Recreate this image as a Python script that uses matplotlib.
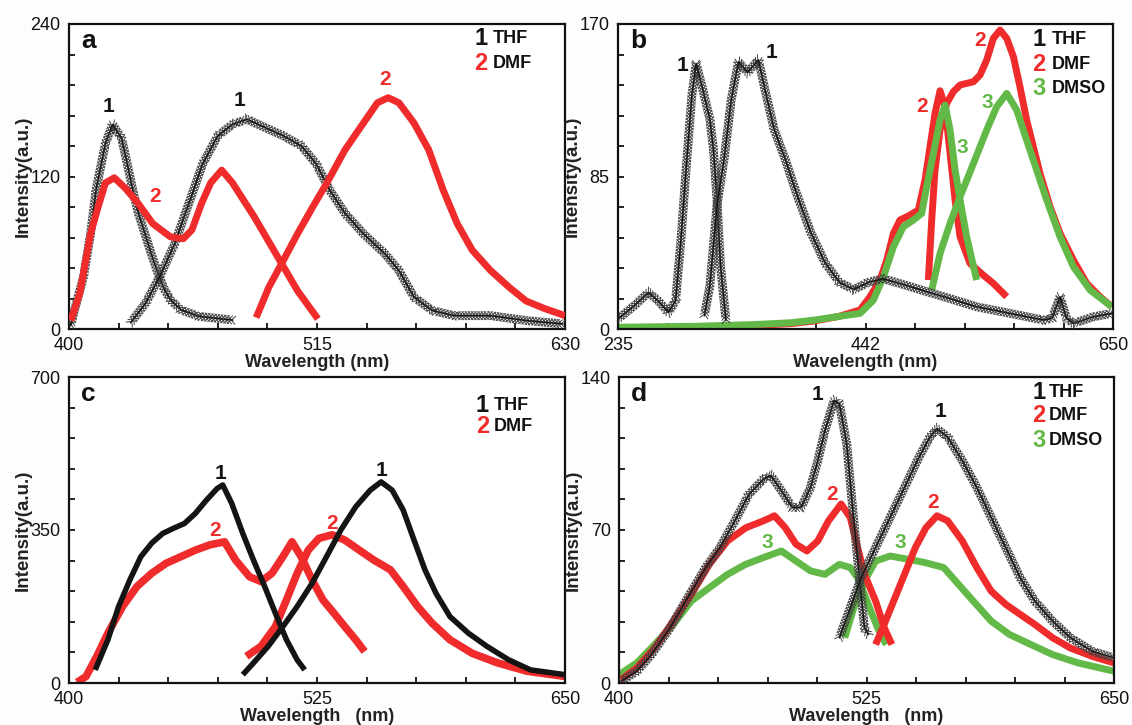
import matplotlib
matplotlib.use("Agg")
import matplotlib.pyplot as plt
from matplotlib import patheffects as pe

plt.rcParams["font.family"] = ["Liberation Sans", "DejaVu Sans"]

RED = "#ef2b2b"
GREEN = "#63b947"
BLACK = "#141414"

# ---- panel a ----
a_thf_ex_wl = [400.8, 402.5, 406.7, 410, 412.6, 416.9, 420.2, 424.4, 427, 429.5, 432, 435, 438, 441, 444, 447, 452, 460, 476]
a_thf_ex_int = [2.6, 14.5, 41, 75, 110, 146, 161, 150, 130, 110, 92, 76, 60, 45, 32, 23, 15, 10, 7]
a_dmf_ex_wl = [400.8, 405, 410, 413.5, 416.9, 421, 426, 432, 438.8, 447, 453, 457, 461.5, 465.7, 470.8, 475.8, 486, 496, 506, 515.4]
a_dmf_ex_int = [6.6, 28, 75, 96, 115, 119, 111, 99, 83, 72.5, 71, 78, 99, 115, 125, 115, 88, 59, 30, 8]
a_thf_em_wl = [428.6, 435.4, 442, 449, 455.6, 462, 469, 475.8, 482.6, 489, 499.4, 507.8, 514.6, 521, 528, 536.5, 546.6, 553, 560, 568.5, 578.6, 595.5, 612.3, 629]
a_thf_em_int = [5, 20, 41, 67, 99, 130, 152, 161, 165, 160, 152, 144, 130, 109, 91, 75, 59, 46, 25, 14.5, 10.5, 10.5, 6.6, 4]
a_dmf_em_wl = [486.8, 492.7, 499.4, 506, 513, 519.6, 528, 536.5, 543, 548, 553, 560, 566.8, 573.6, 580, 587, 595.5, 604, 612, 620.7, 630]
a_dmf_em_int = [9, 33, 54, 75, 96, 115, 141, 162, 178, 182, 178, 162, 141, 109, 83, 62, 46, 33, 22, 16, 10.5]

# ---- panel b ----
b_thf_ex_wl = [235, 248.6, 260.7, 269.7, 277.3, 283.3, 287.8, 292.3, 296.9, 300.5, 305.9, 312, 315, 318, 321, 325.5]
b_thf_ex_int = [5.6, 13, 20.4, 15, 9.3, 15.8, 50, 91, 130, 148, 134, 117, 100, 72, 35, 4.6]
b_thf_em_wl = [307.4, 312, 318, 324, 330, 336, 343.6, 352.7, 358.7, 366, 375, 384.4, 396.5, 408.5, 420.6, 432.7, 444.8, 456.8, 466, 480, 508, 535.7, 563.7, 591.6, 599, 605.6, 611, 616.8, 633.5, 649]
b_thf_em_int = [7.4, 24, 69, 95, 128, 149, 143, 150, 132, 111, 95, 76, 54, 37, 26, 22, 26, 28, 26.4, 23.6, 18, 12.4, 8.7, 5, 6, 18, 6, 3.1, 6.8, 8.7]
b_dmf_ex_wl = [235, 300, 350, 380, 400, 420, 437.9, 446.3, 454.7, 460.3, 465.9, 471.4, 479.8, 486.8, 492.4, 496.6, 500.8, 505, 509.2, 513.4, 517.6, 521.8, 530.1, 541.3, 549.7, 560.9]
b_dmf_ex_int = [0.5, 1, 2, 3, 4.5, 7, 10.6, 18, 27.3, 38.4, 53.3, 60.7, 63.5, 66.3, 83, 101.6, 120.2, 132.8, 123.9, 97.9, 71.9, 51.4, 36.6, 30, 25.4, 18]
b_dmso_ex_wl = [235, 300, 350, 380, 400, 420, 437.9, 449, 457.5, 465.9, 474.2, 482.6, 489.6, 493.8, 499.4, 505, 509.2, 513.4, 517.6, 521.8, 527.3, 535.7]
b_dmso_ex_int = [1, 1.5, 2.5, 3.5, 5, 7, 8.7, 16, 29, 45.8, 57, 60.7, 64.4, 79.3, 97.9, 116.5, 124.8, 110.9, 88.6, 71.9, 51.4, 27.3]
b_dmf_em_wl = [495.2, 498, 500.8, 505, 510.6, 516.2, 521.8, 532.9, 538.5, 544.1, 549.7, 555.3, 560.9, 566.5, 572, 577.6, 583.2, 588.8, 597.2, 605.6, 616.8, 628, 639.1, 649]
b_dmf_em_int = [27.3, 60.7, 88.6, 110.9, 125.8, 132.3, 136, 137.8, 141.5, 149.9, 162, 166.6, 162, 151.8, 135, 116.5, 101.6, 86.7, 68.2, 53.3, 38.4, 25.4, 18, 12.4]
b_dmso_em_wl = [498, 505, 513.4, 521.8, 533, 544.1, 552.5, 560.9, 569.3, 577.6, 586, 594.4, 605.6, 616.8, 630.8, 649]
b_dmso_em_int = [21.7, 42.1, 58.9, 73.7, 92.3, 110.9, 123.9, 131.3, 122, 105.3, 88.6, 71.9, 51.4, 34.7, 21.7, 12.4]

# ---- panel c ----
c_thf_ex_wl = [413.2, 419.6, 425, 430.7, 436.2, 441.7, 447.2, 452.7, 458.2, 463.7, 469.2, 474.7, 477.5, 482, 487.6, 493, 498.6, 504, 509.6, 515, 518.8]
c_thf_ex_int = [30, 99, 175, 236, 289, 320, 342, 354, 365, 388, 418, 445, 453, 411, 342, 281, 221, 160, 99, 53, 30]
c_dmf_ex_wl = [404, 408.6, 414, 419.6, 427, 434.3, 441.7, 449, 456.4, 463.7, 471, 478.4, 484, 491, 496.8, 502.3, 507.8, 512.4, 517, 522.5, 528, 533.5, 539, 544.5, 549]
c_dmf_ex_int = [1.5, 15, 61, 114, 175, 221, 251, 274, 289, 304, 316, 323, 281, 243, 232, 251, 289, 323, 289, 236, 190, 160, 129, 99, 72]
c_thf_em_wl = [487.6, 493, 500.4, 507.8, 515, 522.5, 529.8, 537, 544.5, 551.8, 557.3, 562.9, 568.4, 573.9, 579.4, 585, 592, 601.3, 610.6, 621.6, 632.6, 650]
c_thf_em_int = [19, 46, 84, 129, 175, 228, 289, 350, 403, 441, 460, 441, 396, 327, 259, 205, 152, 114, 84, 53, 30, 19]
c_dmf_em_wl = [489.4, 496.8, 504, 509.6, 515, 520.6, 526, 532.6, 539, 546.3, 553.7, 562, 568.4, 575.7, 583, 592, 603.2, 616, 630.8, 650]
c_dmf_em_int = [61, 84, 129, 190, 251, 304, 331, 339, 327, 304, 281, 259, 221, 175, 137, 99, 68, 46, 27, 15]

# ---- panel d ----
d_thf_ex_wl = [401, 409, 416.4, 425.6, 434.7, 443.8, 451, 458.4, 465.7, 473, 476.7, 482, 487.6, 492, 496.7, 500.4, 504, 508.6, 511.3, 515, 518.6, 521.4, 524, 526]
d_thf_ex_int = [0.8, 5.4, 13, 25, 39, 52.8, 62, 74, 86.4, 93.3, 94.9, 88, 80.3, 80.3, 89.5, 101.7, 115.5, 129.3, 127.8, 109.4, 74.2, 48.2, 25.2, 22.2]
d_thf_em_wl = [511.3, 516.8, 522.3, 529.6, 536.9, 544.2, 551.5, 557, 560.6, 566, 573.4, 580.7, 588, 595.3, 602.6, 610, 619, 628, 639, 650]
d_thf_em_int = [20.7, 34.4, 48.2, 62, 75.7, 89.5, 103.3, 112.5, 116.3, 112.5, 101.7, 89.5, 75.7, 62, 48.2, 37.5, 28.3, 20.7, 14.5, 11.5]
d_dmf_ex_wl = [401, 409, 418, 427.4, 436.5, 445.6, 454.8, 464, 473, 478.5, 484, 489.4, 494.9, 500.4, 505.8, 512.2, 516.8, 520.5, 524, 529.6, 534, 537.8]
d_dmf_ex_int = [1.5, 6.9, 16, 28.3, 40.5, 54.3, 65, 71, 74.2, 76.5, 71, 63.5, 60.4, 65, 74.2, 81.9, 75.7, 62, 49.7, 37.5, 25.2, 17.6]
d_dmf_em_wl = [529.6, 533.2, 538.7, 544.2, 549.7, 555, 560.6, 566, 573.4, 580.7, 588, 595.3, 602.6, 610, 619, 628, 639, 650]
d_dmf_em_int = [17.6, 25.2, 37.5, 49.7, 62, 71, 76.5, 74.2, 65, 52.8, 42, 36, 31.4, 26.8, 20.7, 16, 12.2, 9.2]
d_dmso_ex_wl = [400, 409, 418, 427.4, 436.5, 445.6, 454.8, 464, 473, 482, 489.4, 496.7, 504, 511.3, 516.8, 520.5, 524, 527.8, 531.4, 535]
d_dmso_ex_int = [3.8, 9.2, 17.6, 26.8, 37.5, 43.6, 49.7, 54.3, 57.4, 60.4, 55.8, 51.3, 49.7, 54.3, 52.8, 48.2, 40.5, 31.4, 23.7, 17.6]
d_dmso_em_wl = [514, 518.6, 524, 529.6, 536.9, 546, 555, 564, 571.6, 578.9, 588, 597.2, 608, 619, 631.8, 650]
d_dmso_em_int = [20.7, 34.4, 46.7, 55.8, 58.1, 56.6, 55, 52.8, 45, 37.5, 28.3, 22.2, 17.6, 13, 9.2, 5.4]

# axis limits and labelled ticks
a_xlim, a_ylim = (400, 630), (0, 240)
b_xlim, b_ylim = (235, 650), (0, 170)
c_xlim, c_ylim = (400, 650), (0, 700)
d_xlim, d_ylim = (400, 650), (0, 140)
a_xlabels, a_ylabels = ["400", "515", "630"], ["0", "120", "240"]
b_xlabels, b_ylabels = ["235", "442", "650"], ["0", "85", "170"]
c_xlabels, c_ylabels = ["400", "525", "650"], ["0", "350", "700"]
d_xlabels, d_ylabels = ["400", "525", "650"], ["0", "70", "140"]

solvents = ["THF", "DMF", "DMSO"]
solvent_colors = [BLACK, RED, GREEN]


def cross_line(ax, wl, val):
    # thin line with dense "x" markers, drawn as ticks along the path
    ticks = [
        pe.TickedStroke(spacing=2.3, angle=ang, length=1.75, linewidth=0.7, foreground="#404040")
        for ang in (45, -135, 135, -45)
    ]
    ax.plot(wl, val, color=BLACK, lw=1.0, path_effects=ticks + [pe.Normal()], zorder=3)


def thick_line(ax, wl, val, color, lw=5.0, z=2):
    ax.plot(wl, val, color=color, lw=lw, solid_joinstyle="round", solid_capstyle="butt", zorder=z)


def style_axes(ax, xlim, ylim, xlabels, ylabels, letter, xlabel):
    ax.set_xlim(*xlim)
    ax.set_ylim(*ylim)
    xt = [xlim[0] + (xlim[1] - xlim[0]) * i / 10 for i in range(11)]
    yt = [ylim[0] + (ylim[1] - ylim[0]) * i / 10 for i in range(11)]
    ax.set_xticks(xt)
    ax.set_yticks(yt)
    ax.set_xticklabels([xlabels[i // 5] if i % 5 == 0 else "" for i in range(11)])
    ax.set_yticklabels([ylabels[i // 5] if i % 5 == 0 else "" for i in range(11)])
    ax.tick_params(direction="in", length=4, width=1.3, labelsize=13, top=False, right=False,
                   colors="#111111")
    ax.tick_params(axis="x", pad=6)
    ax.tick_params(axis="y", pad=6)
    for s in ax.spines.values():
        s.set_linewidth(1.6)
        s.set_color("#111111")
    ax.set_xlabel(xlabel, fontsize=13, fontweight="bold", labelpad=0, color="#222222")
    ax.set_ylabel("Intensity(a.u.)", fontsize=13.5, fontweight="bold", labelpad=-1, color="#222222")
    ax.text(0.025, 0.945, letter, transform=ax.transAxes, fontsize=19, fontweight="bold",
            ha="left", va="center", color="#111111")


def legend(ax, n, xnum, xname, ys):
    for i in range(n):
        ax.text(xnum, ys[i], str(i + 1), transform=ax.transAxes, fontsize=17, fontweight="bold",
                color=solvent_colors[i], ha="right", va="center")
        ax.text(xname, ys[i], solvents[i], transform=ax.transAxes, fontsize=13,
                fontweight="bold", color="#111111", ha="left", va="center")


def curve_label(ax, x, y, s, color):
    ax.text(x, y, s, fontsize=15, fontweight="bold", color=color, ha="center", va="center", zorder=5)


fig = plt.figure(figsize=(11.32, 7.25), dpi=100, facecolor="#fdfdff")
W, H = 1132, 725
axa = fig.add_axes([69 / W, 1 - 329 / H, 496 / W, 305 / H])
axb = fig.add_axes([618 / W, 1 - 329 / H, 495 / W, 305 / H])
axc = fig.add_axes([69 / W, 1 - 683 / H, 496 / W, 306 / H])
axd = fig.add_axes([619 / W, 1 - 683 / H, 495 / W, 306 / H])

# panel a
cross_line(axa, a_thf_ex_wl, a_thf_ex_int)
cross_line(axa, a_thf_em_wl, a_thf_em_int)
thick_line(axa, a_dmf_ex_wl, a_dmf_ex_int, RED, z=4)
thick_line(axa, a_dmf_em_wl, a_dmf_em_int, RED, z=4)
style_axes(axa, a_xlim, a_ylim, a_xlabels, a_ylabels, "a", "Wavelength (nm)")
legend(axa, 2, 0.843, 0.855, [0.951, 0.872])
curve_label(axa, 418.5, 175, "1", BLACK)
curve_label(axa, 479, 180, "1", BLACK)
curve_label(axa, 440, 104, "2", RED)
curve_label(axa, 546.5, 196, "2", RED)

# panel b
thick_line(axb, b_dmf_ex_wl, b_dmf_ex_int, RED)
thick_line(axb, b_dmf_em_wl, b_dmf_em_int, RED)
thick_line(axb, b_dmso_ex_wl, b_dmso_ex_int, GREEN)
thick_line(axb, b_dmso_em_wl, b_dmso_em_int, GREEN)
cross_line(axb, b_thf_ex_wl, b_thf_ex_int)
cross_line(axb, b_thf_em_wl, b_thf_em_int)
style_axes(axb, b_xlim, b_ylim, b_xlabels, b_ylabels, "b", "Wavelength (nm)")
legend(axb, 3, 0.863, 0.877, [0.948, 0.866, 0.790])
curve_label(axb, 288.7, 147, "1", BLACK)
curve_label(axb, 364, 154, "1", BLACK)
curve_label(axb, 490, 124, "2", RED)
curve_label(axb, 523.4, 101, "3", GREEN)
curve_label(axb, 538.5, 161, "2", RED)
curve_label(axb, 544.4, 126, "3", GREEN)

# panel c
thick_line(axc, c_dmf_ex_wl, c_dmf_ex_int, RED, lw=5.5)
thick_line(axc, c_dmf_em_wl, c_dmf_em_int, RED, lw=5.5)
thick_line(axc, c_thf_ex_wl, c_thf_ex_int, BLACK, lw=4, z=3)
thick_line(axc, c_thf_em_wl, c_thf_em_int, BLACK, lw=4, z=3)
style_axes(axc, c_xlim, c_ylim, c_xlabels, c_ylabels, "c", "Wavelength   (nm)")
legend(axc, 2, 0.847, 0.857, [0.908, 0.837])
curve_label(axc, 476.6, 479, "1", BLACK)
curve_label(axc, 557.3, 487, "1", BLACK)
curve_label(axc, 473.8, 350, "2", RED)
curve_label(axc, 532.6, 365, "2", RED)

# panel d
thick_line(axd, d_dmso_ex_wl, d_dmso_ex_int, GREEN)
thick_line(axd, d_dmso_em_wl, d_dmso_em_int, GREEN)
thick_line(axd, d_dmf_ex_wl, d_dmf_ex_int, RED)
thick_line(axd, d_dmf_em_wl, d_dmf_em_int, RED)
cross_line(axd, d_thf_ex_wl, d_thf_ex_int)
cross_line(axd, d_thf_em_wl, d_thf_em_int)
style_axes(axd, d_xlim, d_ylim, d_xlabels, d_ylabels, "d", "Wavelength   (nm)")
legend(axd, 3, 0.862, 0.868, [0.948, 0.873, 0.794])
curve_label(axd, 500.4, 132, "1", BLACK)
curve_label(axd, 562.4, 124, "1", BLACK)
curve_label(axd, 507.7, 86.4, "2", RED)
curve_label(axd, 558.8, 82.6, "2", RED)
curve_label(axd, 474.8, 64.3, "3", GREEN)
curve_label(axd, 542.3, 64.3, "3", GREEN)

fig.savefig("out.png", dpi=100, facecolor=fig.get_facecolor())
